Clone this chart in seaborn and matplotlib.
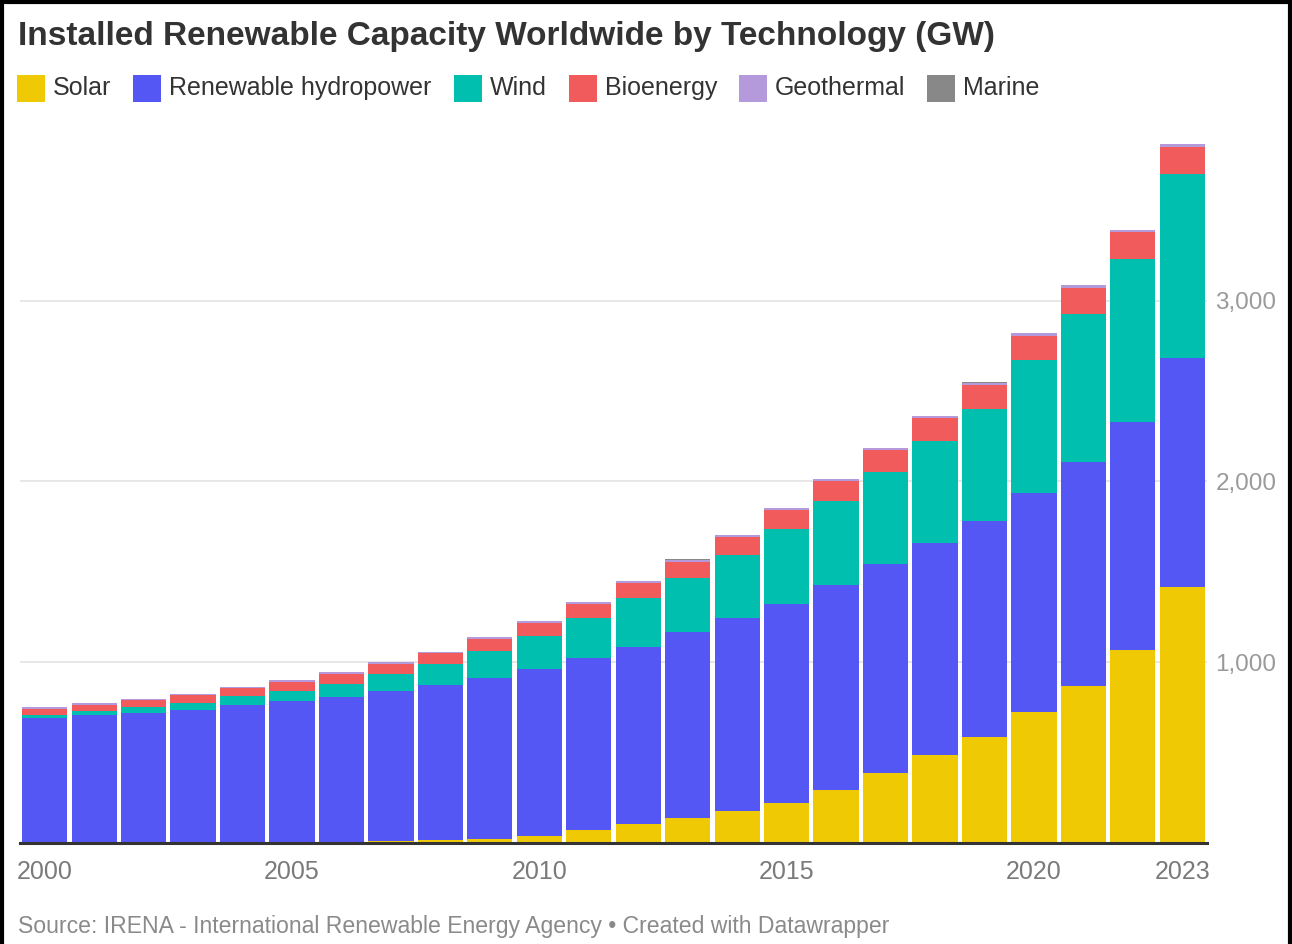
import pandas as pd
import matplotlib
matplotlib.use('Agg')
import matplotlib.pyplot as plt
import seaborn as sns
from matplotlib.patches import Rectangle
from matplotlib.lines import Line2D

#data (GW)
years = [str(y) for y in range(2000, 2024)]
solar = [1, 1, 2, 3, 4, 5, 6, 9, 14, 21, 38, 72, 103, 138, 178, 222, 294, 388, 487, 588, 723, 868, 1067, 1414]
hydro = [692, 705, 717, 734, 760, 779, 802, 831, 860, 892, 925, 952, 983, 1028, 1066, 1101, 1131, 1153, 1175, 1193, 1215, 1237, 1263, 1269]
wind = [17, 24, 31, 39, 47, 59, 74, 93, 115, 150, 181, 220, 267, 300, 349, 416, 467, 514, 563, 622, 733, 824, 900, 1017]
bio = [33, 36, 40, 42, 44, 48, 53, 56, 60, 66, 72, 80, 85, 91, 98, 104, 110, 118, 124, 130, 136, 142, 148, 150]
geo = [8.0, 8.2, 8.4, 8.6, 8.8, 9.0, 9.3, 9.6, 10.0, 10.3, 10.0, 10.2, 10.5, 10.9, 11.4, 12.0, 12.3, 13.0, 13.5, 14.0, 14.2, 14.7, 14.9, 15.0]
marine = [0.3, 0.3, 0.3, 0.3, 0.3, 0.3, 0.3, 0.3, 0.3, 0.3, 0.5, 0.5, 0.5, 0.5, 0.5, 0.5, 0.5, 0.5, 0.5, 0.5, 0.5, 0.5, 0.5, 0.5]

techs = ['Solar', 'Renewable hydropower', 'Wind', 'Bioenergy', 'Geothermal', 'Marine']
colors = ['#f0c905', '#5457f4', '#00bfae', '#f15b5b', '#b59adb', '#888888']
tick_years = ['2000', '2005', '2010', '2015', '2020', '2023']

df = pd.DataFrame({'year': years, 'Solar': solar, 'Renewable hydropower': hydro,
                   'Wind': wind, 'Bioenergy': bio, 'Geothermal': geo, 'Marine': marine})
cum = df[techs].cumsum(axis=1)
cum['year'] = df['year']

sns.set_style('white')
plt.rcParams['font.family'] = ['Liberation Sans', 'DejaVu Sans']

W, H = 1292, 944
fig = plt.figure(figsize=(W / 100, H / 100), dpi=100)
ax = fig.add_axes([20 / W, (H - 843) / H, 1187 / W, (843 - 138) / H])

#stack by drawing cumulative totals from the top layer down
for tech, col in reversed(list(zip(techs, colors))):
    sns.barplot(data=cum, x='year', y=tech, order=years, color=col, saturation=1,
                width=0.915, linewidth=0, ax=ax)

ax.set_xlim(-0.5, len(years) - 0.5)
ax.set_ylim(0, 3900)
ax.set_xlabel('')
ax.set_ylabel('')

ax.set_axisbelow(True)
ax.yaxis.grid(True, color='#e3e3e3', linewidth=1.2)
ax.set_yticks([1000, 2000, 3000])
ax.set_yticklabels(['1,000', '2,000', '3,000'])
ax.yaxis.tick_right()
ax.tick_params(axis='y', length=0, pad=6, labelsize=17.5, labelcolor='#9a9a9a')

ax.set_xticks([years.index(y) for y in tick_years])
ax.set_xticklabels(tick_years)
ax.tick_params(axis='x', length=0, pad=12, labelsize=18, labelcolor='#7a7a7a')

for s in ['top', 'right', 'left']:
    ax.spines[s].set_visible(False)
ax.spines['bottom'].set_color('#333333')
ax.spines['bottom'].set_linewidth(2.2)

#title
fig.text(18 / W, 1 - 36 / H, 'Installed Renewable Capacity Worldwide by Technology (GW)',
         fontsize=24, fontweight='bold', color='#333333', va='center', ha='left')

#legend row
fig.canvas.draw()
renderer = fig.canvas.get_renderer()
x = 17
for tech, col in zip(techs, colors):
    fig.patches.append(Rectangle((x / W, 1 - 102 / H), 28 / W, 27 / H,
                                 transform=fig.transFigure, facecolor=col, edgecolor='none'))
    t = fig.text((x + 36) / W, 1 - 88 / H, tech, fontsize=18, color='#333333',
                 va='center', ha='left')
    bb = t.get_window_extent(renderer)
    x = x + 36 + bb.width + 22

#footer
fig.text(18 / W, 1 - 927 / H,
         'Source: IRENA - International Renewable Energy Agency \u2022 Created with Datawrapper',
         fontsize=16.6, color='#8a8a8a', va='center', ha='left')

#frame around image
for xs, ys in [([0.0015, 0.0015], [0, 1]), ([0, 1], [0.998, 0.998]), ([0.9985, 0.9985], [0, 1])]:
    fig.add_artist(Line2D(xs, ys, transform=fig.transFigure, color='black', linewidth=3))

fig.savefig('out.png', dpi=100)
